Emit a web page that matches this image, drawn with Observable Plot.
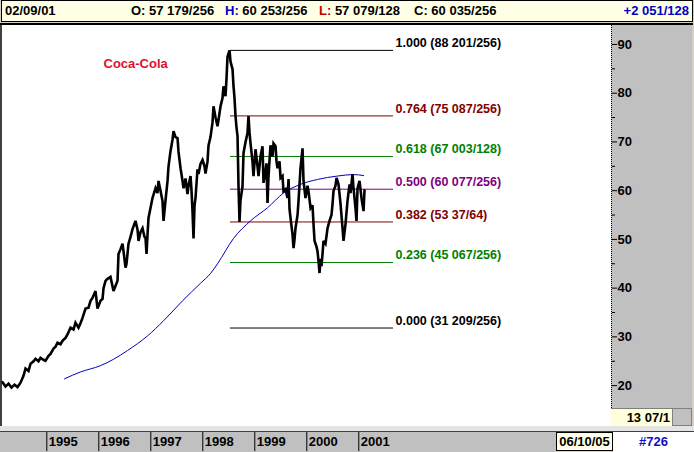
<!DOCTYPE html>
<html>
<head>
<meta charset="utf-8">
<script src="https://cdn.jsdelivr.net/npm/d3@7"></script>
<script src="https://cdn.jsdelivr.net/npm/@observablehq/plot@0.6"></script>
<style>
  html, body { margin: 0; padding: 0; background: #d4d0c8; }
  #wrap { position: relative; width: 694px; height: 452px; overflow: hidden; background: #d4d0c8; font-family: Arial, "Liberation Sans", sans-serif; }
  .abs { position: absolute; }
  .hdr { position: absolute; top: 3px; font-weight: bold; font-size: 13px; line-height: 16px; color: #000; white-space: nowrap; }
</style>
</head>
<body>
<div id="wrap">
  <div class="abs" id="topbar" style="left:1px;top:0px;width:690px;height:20px;border:1px solid #000;background:#ffffe6;"></div>
  <div class="abs" style="left:0px;top:23px;width:693px;height:2px;background:#000;"></div>
  <div class="abs" style="left:0px;top:25px;width:2px;height:401px;background:#404040;"></div>
  <div class="abs" style="left:2px;top:25px;width:609px;height:401px;background:#fff;"></div>
  <div class="abs" style="left:611px;top:25px;width:80px;height:383px;background:#c0c0c0;border-left:1px dotted #000;"></div>
  <div class="abs" style="left:611px;top:408px;width:61px;height:18px;background:#ffffdc;border-top:1px solid #808080;"></div>
  <div class="abs" id="scaleLabel" style="left:611px;top:409px;width:59px;height:17px;text-align:right;font-weight:bold;font-size:13px;line-height:17px;"></div>
  <div class="abs" style="left:672px;top:408px;width:20px;height:18px;background:#c0c0c0;border:1px solid #808080;box-sizing:border-box;"></div>
  <div class="abs" style="left:0px;top:426px;width:694px;height:5px;background:#e4e4e4;"></div>
  <div class="abs" style="left:0px;top:431px;width:694px;height:1px;background:#404040;"></div>
  <div class="abs" style="left:0px;top:432px;width:556px;height:20px;background:#c0c0c0;"></div>
  <div class="abs" id="dateBox" style="left:556px;top:432px;width:57px;height:19px;background:#ffffe6;border:1px solid #000;box-sizing:border-box;text-align:center;font-weight:bold;font-size:13px;line-height:17px;"></div>
  <div class="abs" id="refBox" style="left:613px;top:432px;width:81px;height:20px;background:#fff;text-align:center;font-weight:bold;font-size:13px;line-height:19px;color:#1010c0;"></div>
  <div class="abs" id="main" style="left:0;top:0;"></div>
  <div class="abs" id="years" style="left:0;top:432px;"></div>
</div>
<script>
// ---- header values ----
const headerDate = "02/09/01";
const headerOpen = "57 179/256";
const headerHigh = "60 253/256";
const headerLow = "57 079/128";
const headerClose = "60 035/256";
const headerChange = "+2 051/128";
const footerDate = "06/10/05";
const footerRef = "#726";
const scaleText = "13 07/1";
const chartTitle = "Coca-Cola";

// ---- price series (decimal year, price) ----
const priceYear = [
 1994.148,1994.206,1994.264,1994.322,1994.379,1994.437,1994.495,1994.552,1994.591,1994.648,
 1994.687,1994.745,1994.783,1994.841,1994.879,1994.937,1994.975,1995.033,1995.072,1995.129,
 1995.168,1995.206,1995.264,1995.302,1995.36,1995.398,1995.456,1995.514,1995.552,1995.61,
 1995.648,1995.687,1995.745,1995.802,1995.841,1995.879,1995.937,1995.975,1996.033,1996.072,
 1996.091,1996.129,1996.168,1996.225,1996.283,1996.322,1996.36,1996.379,1996.418,1996.456,
 1996.475,1996.514,1996.533,1996.571,1996.61,1996.648,1996.706,1996.745,1996.764,1996.802,
 1996.841,1996.879,1996.898,1996.918,1996.937,1996.956,1996.995,1997.033,1997.091,1997.129,
 1997.148,1997.187,1997.225,1997.245,1997.283,1997.322,1997.341,1997.379,1997.418,1997.437,
 1997.475,1997.514,1997.533,1997.572,1997.61,1997.629,1997.668,1997.706,1997.725,1997.764,
 1997.783,1997.802,1997.822,1997.841,1997.86,1997.898,1997.918,1997.956,1997.995,1998.033,
 1998.052,1998.091,1998.11,1998.148,1998.187,1998.206,1998.245,1998.283,1998.302,1998.341,
 1998.379,1998.398,1998.437,1998.456,1998.475,1998.514,1998.533,1998.572,1998.591,1998.61,
 1998.629,1998.648,1998.668,1998.687,1998.706,1998.725,1998.764,1998.783,1998.822,1998.86,
 1998.879,1998.898,1998.918,1998.956,1998.975,1999.014,1999.052,1999.072,1999.11,1999.148,
 1999.168,1999.206,1999.225,1999.245,1999.264,1999.302,1999.341,1999.36,1999.399,1999.418,
 1999.437,1999.475,1999.495,1999.533,1999.552,1999.591,1999.629,1999.649,1999.668,1999.687,
 1999.725,1999.745,1999.764,1999.783,1999.822,1999.841,1999.879,1999.918,1999.937,1999.975,
 2000.014,2000.033,2000.072,2000.11,2000.129,2000.149,2000.187,2000.206,2000.225,2000.245,
 2000.264,2000.283,2000.302,2000.322,2000.36,2000.399,2000.437,2000.475,2000.495,2000.514,
 2000.552,2000.572,2000.61,2000.649,2000.687,2000.706,2000.745,2000.783,2000.822,2000.841,
 2000.879,2000.899,2000.937,2000.956,2000.976,2001.014,2001.052,2001.091,2001.11
];
const priceValue = [
 20.7,19.8,20.4,19.6,20.2,19.7,20.6,22.0,23.5,23.0,
 24.5,25.0,25.5,25.0,25.7,25.3,25.1,26.1,26.5,27.6,
 28.0,28.8,28.5,29.2,29.8,30.5,31.9,31.5,32.9,31.9,
 32.8,33.9,35.8,36.0,37.4,38.0,39.4,35.8,37.4,37.8,
 40.0,41.5,41.9,42.3,39.4,40.5,41.5,47.0,48.0,49.1,
 47.6,44.2,45.0,49.1,50.5,52.1,53.8,52.0,49.7,51.5,
 52.3,50.5,50.3,47.0,51.0,54.4,56.5,58.5,60.5,59.5,
 62.0,60.0,57.9,53.8,58.0,62.0,65.0,68.1,70.5,72.2,
 71.0,70.8,68.0,64.6,62.0,60.5,62.5,59.3,61.0,63.0,
 60.0,55.8,50.2,57.0,58.5,64.4,63.4,65.5,66.3,65.0,
 63.5,66.0,69.3,71.0,74.0,77.3,75.0,73.2,74.5,77.3,
 79.0,81.4,79.4,83.0,87.5,88.8,86.5,84.9,81.4,79.0,
 75.3,73.0,71.2,60.9,53.6,58.0,60.9,67.7,70.0,71.8,
 75.3,72.0,69.7,66.0,63.0,68.5,65.0,63.0,67.0,69.1,
 61.6,64.0,65.6,57.5,63.0,69.3,67.0,69.7,69.1,66.0,
 64.6,66.0,62.6,63.0,59.9,60.3,58.5,62.4,56.2,54.4,
 51.1,48.2,50.0,52.3,55.0,57.9,64.6,68.7,62.0,58.5,
 61.0,59.9,56.4,57.0,53.2,49.7,48.5,47.6,45.6,43.1,
 46.0,44.5,47.0,49.7,49.1,52.3,53.8,55.0,57.3,59.9,
 61.0,62.6,61.3,57.3,52.3,49.7,53.2,57.9,61.3,59.5,
 63.4,60.5,56.4,53.8,60.5,62.0,58.5,55.8,60.1
];

// ---- moving average ----
const maYear = [1995.341,1995.648,1996.033,1996.283,1996.552,1996.937,1997.245,1997.61,1997.956,1998.148,
 1998.283,1998.591,1998.918,1999.245,1999.552,1999.879,2000.206,2000.591,2000.899,2001.091];
const maValue = [21.4,22.8,24.1,25.4,27.2,30.2,33.3,37.4,41.0,43.0,
 45.0,50.2,53.8,56.5,59.5,61.3,62.3,63.0,63.3,63.1];

// ---- Fibonacci retracement ----
const fibLevel = ["1.000","0.764","0.618","0.500","0.382","0.236","0.000"];
const fibPrice = [88.785,75.340,67.023,60.301,53.578,45.262,31.816];
const fibLabel = ["88 201/256","75 087/256","67 003/128","60 077/256","53 37/64","45 067/256","31 209/256"];
const fibColor = ["#000000","#800000","#008000","#800080","#800000","#008000","#000000"];
const fibStartYear = 1998.533;
const fibEndYear = 2001.668;

// ---- ticks ----
const yTicks = [20,30,40,50,60,70,80,90];
const yMinorTicks = [25,35,45,55,65,75,85];
const yearTicks = [1995,1996,1997,1998,1999,2000,2001];

const xDomain = [1994.148, 2005.86];

const price = priceYear.map((year, i) => ({year, value: priceValue[i]}));
const ma = maYear.map((year, i) => ({year, value: maValue[i]}));
const fib = fibLevel.map((level, i) => ({level, price: fibPrice[i], label: fibLabel[i], hue: fibColor[i]}));

const fontFam = "Arial, 'Liberation Sans', sans-serif";

const chart = Plot.plot({
  width: 694, height: 452,
  marginTop: 25, marginBottom: 26, marginLeft: 2, marginRight: 83,
  x: {type: "linear", domain: xDomain, axis: null},
  y: {domain: [11.61, 93.89], axis: null},
  color: {type: "identity"},
  style: {background: "transparent", fontFamily: fontFam, color: "#000", overflow: "visible"},
  marks: [
    Plot.ruleY(fib, {y: "price", x1: () => fibStartYear, x2: () => fibEndYear, stroke: d => d.hue, strokeWidth: 1}),
    Plot.line(ma, {x: "year", y: "value", stroke: "#0000b8", strokeWidth: 1, curve: "monotone-x"}),
    Plot.line(price, {x: "year", y: "value", stroke: "#000", strokeWidth: 2.6, strokeLinejoin: "miter", strokeMiterlimit: 3}),
    Plot.text(fib, {x: () => fibEndYear, y: "price", text: d => `${d.level} (${d.label})`, fill: d => d.hue,
      dx: 2, dy: -7, textAnchor: "start", lineAnchor: "middle", fontSize: 12.5, fontWeight: "bold"}),
    Plot.text([chartTitle], {frameAnchor: "top-left", dx: 101, dy: 38, lineAnchor: "middle", textAnchor: "start",
      fill: "#e0102a", fontSize: 13, fontWeight: "bold"}),
    Plot.axisY({anchor: "right", ticks: yTicks, tickSize: 5, tickPadding: 1, fontSize: 13, fontWeight: "bold",
      tickFormat: d => String(d), stroke: "#000", fill: "#000"}),
    Plot.axisY({anchor: "right", ticks: yMinorTicks, tickSize: 3, tickFormat: () => "", stroke: "#000"})
  ]
});
document.getElementById("main").appendChild(chart);

const years = Plot.plot({
  width: 694, height: 19,
  marginTop: 0, marginBottom: 0, marginLeft: 2, marginRight: 83,
  x: {type: "linear", domain: xDomain, axis: null},
  y: {axis: null},
  style: {background: "transparent", fontFamily: fontFam, color: "#000", overflow: "visible"},
  marks: [
    Plot.ruleX(yearTicks, {x: d => d, stroke: "#000", strokeWidth: 1}),
    Plot.text(yearTicks, {x: d => d, text: d => String(d), frameAnchor: "middle", dx: 2, textAnchor: "start",
      lineAnchor: "middle", fontSize: 13, fontWeight: "bold", fill: "#000"})
  ]
});
document.getElementById("years").appendChild(years);

// header
function hdr(left, html, extra) {
  const s = document.createElement("div");
  s.className = "hdr";
  s.style.left = left + "px";
  if (extra) Object.assign(s.style, extra);
  s.innerHTML = html;
  document.getElementById("wrap").appendChild(s);
}
hdr(5, headerDate);
hdr(131, "O: " + headerOpen);
hdr(225, '<span style="color:#0000c0">H:</span> ' + headerHigh);
hdr(319, '<span style="color:#c00000">L:</span> ' + headerLow);
hdr(414, "C: " + headerClose);
hdr(0, headerChange, {left: "auto", right: "5px", color: "#0000c8"});
document.getElementById("dateBox").textContent = footerDate;
document.getElementById("refBox").textContent = footerRef;
document.getElementById("scaleLabel").textContent = scaleText;
</script>
</body>
</html>
